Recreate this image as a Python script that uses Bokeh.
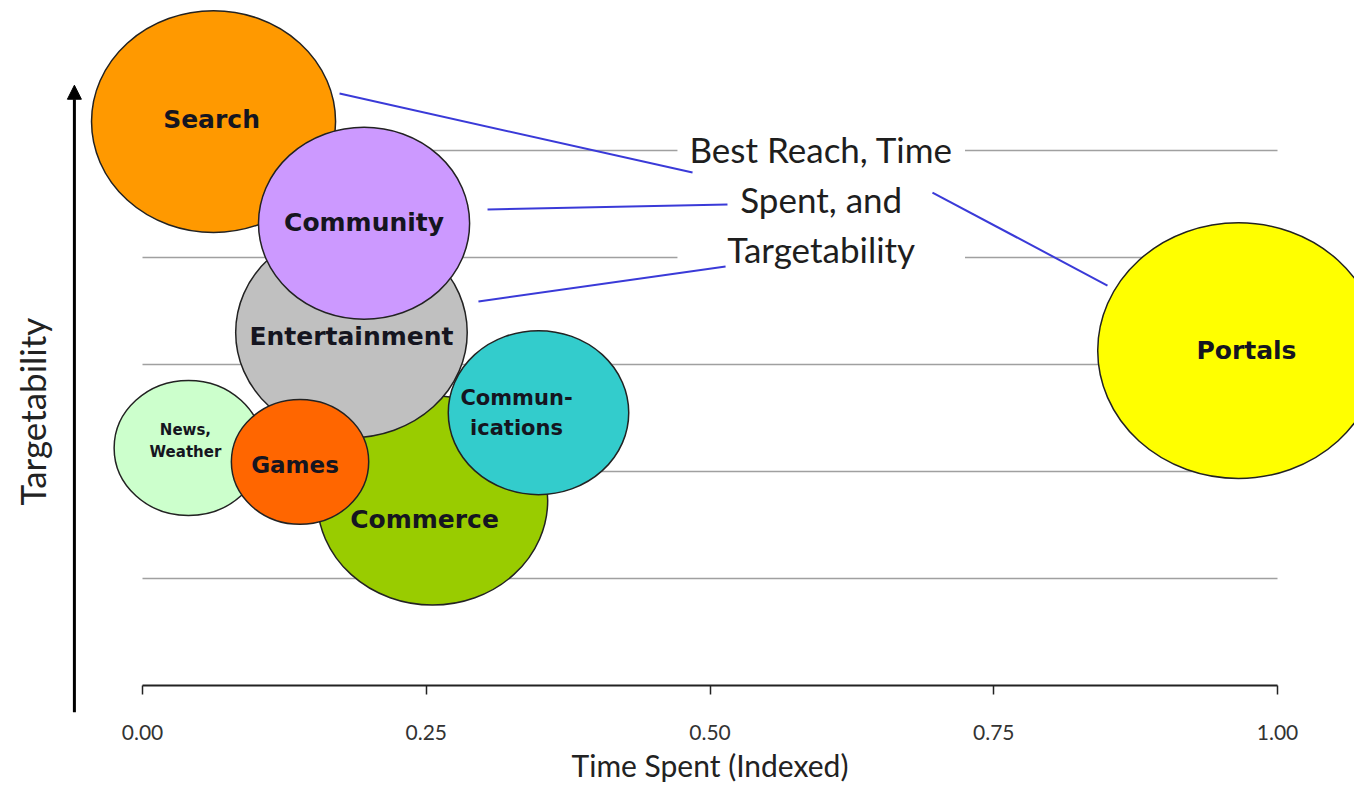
from math import pi
from bokeh.plotting import figure
from bokeh.models import (Range1d, LinearAxis, FixedTicker, Label, Arrow, NormalHead,
                          ColumnDataSource, NumeralTickFormatter)
from bokeh.embed import file_html
from bokeh.resources import INLINE
from bokeh.core.properties import value

# ---------------- data ----------------
categories = ["Commerce", "Entertainment", "Search", "Community", "Communications",
              "News, Weather", "Games", "Portals"]
bubble_labels = ["Commerce", "Entertainment", "Search", "Community", "Commun-\nications",
                 "News,\nWeather", "Games", "Portals"]
time_spent = [0.2555, 0.1841, 0.0626, 0.1952, 0.3489, 0.0405, 0.1388, 0.9656]
targetability = [1.73, 3.30, 5.27, 4.32, 2.55, 2.22, 2.09, 3.13]
reach = [0.203, 0.204, 0.215, 0.186, 0.159, 0.131, 0.121, 0.248]
colors = ["#99CC00", "#C0C0C0", "#FF9900", "#CC99FF", "#33CCCC", "#CCFFCC", "#FF6600", "#FFFF00"]

grid_levels = [1, 2, 3, 4, 5]
x_ticks = [0.0, 0.25, 0.5, 0.75, 1.0]

callout_text = "Best Reach, Time\nSpent, and\nTargetability"
callout_x = 0.598
callout_y = 4.55
# connector lines from bubbles to the callout
conn_x0 = [0.1736, 0.3040, 0.2960, 0.6960]
conn_y0 = [5.533, 4.449, 3.589, 4.607]
conn_x1 = [0.4846, 0.5154, 0.5137, 0.8502]
conn_y1 = [4.794, 4.495, 3.916, 3.738]

# ---------------- styles ----------------
ASPECT = 9.64  # height (y units) per width (x units) of each bubble
label_sizes = ["25px", "25px", "25px", "25px", "21px", "15px", "23px", "25px"]
label_dx = [-8, 0, -2, 0, -22, -3, -5, 8]
label_dy = [19, 4, -2, -1, 0, -7, 3, 0]

W, H = 1354, 791
X0_PX, X1_PX = 142, 1277        # canvas px for x=0 and x=1
Y0_PX, YPU = 685, 107           # canvas px for y=0, px per y unit
x_start = (0 - X0_PX) / (X1_PX - X0_PX)
x_end = (W - X0_PX) / (X1_PX - X0_PX)
y_end = Y0_PX / YPU
y_start = (Y0_PX - H) / YPU

p = figure(width=W, height=H, x_range=Range1d(x_start, x_end), y_range=Range1d(y_start, y_end),
           output_backend="svg", toolbar_location=None, x_axis_location=None,
           y_axis_location=None, min_border=0)
p.xgrid.visible = False
p.ygrid.visible = False
p.outline_line_color = None
p.background_fill_color = "white"

# gridlines
p.segment(x0=[0] * len(grid_levels), y0=grid_levels, x1=[1] * len(grid_levels), y1=grid_levels,
          line_color="#a0a0a0", line_width=1.3)

# bubbles
src = ColumnDataSource(dict(
    x=time_spent, y=targetability, w=reach, h=[r * ASPECT for r in reach],
    color=colors, label=bubble_labels, size=label_sizes, dx=label_dx, dy=label_dy))
p.ellipse(x="x", y="y", width="w", height="h", source=src, fill_color="color",
          line_color="#222222", line_width=1.5)
p.text(x="x", y="y", text="label", source=src, text_font=value("DejaVu Sans"),
       text_font_style="bold", text_font_size="size", text_align="center",
       text_baseline="middle", text_color="#151520", x_offset="dx", y_offset="dy",
       text_line_height=1.25)

# callout
p.add_layout(Label(x=callout_x, y=callout_y, text=callout_text, text_align="center",
                   text_baseline="middle", text_font="Lato", text_font_size="35px",
                   text_color="#1e1e1e", text_line_height=1.19,
                   background_fill_color="white", padding=12))
conn = p.segment(x0=conn_x0, y0=conn_y0, x1=conn_x1, y1=conn_y1,
                 line_color="#3a3ad8", line_width=2)
conn.level = "overlay"

# y axis arrow and label
p.add_layout(Arrow(end=NormalHead(size=14, fill_color="black", line_color="black"),
                   x_start=-0.06, y_start=-0.25, x_end=-0.06, y_end=5.61,
                   line_color="black", line_width=3))
p.add_layout(Label(x=-0.097, y=2.56, text="Targetability", angle=pi / 2,
                   text_align="center", text_baseline="middle", text_font="Lato",
                   text_font_size="35px", text_color="#222222"))

# x axis
xaxis = LinearAxis(fixed_location=0, ticker=FixedTicker(ticks=x_ticks), bounds=(0, 1),
                   formatter=NumeralTickFormatter(format="0.00"))
xaxis.axis_line_color = "#222222"
xaxis.axis_line_width = 2
xaxis.major_tick_line_color = "#222222"
xaxis.major_tick_line_width = 1.5
xaxis.major_tick_out = 9
xaxis.major_tick_in = 0
xaxis.minor_tick_out = 0
xaxis.minor_tick_in = 0
xaxis.major_label_standoff = 30
xaxis.major_label_text_font = "Lato"
xaxis.major_label_text_font_size = "21px"
xaxis.major_label_text_color = "#333333"
xaxis.axis_label = "Time Spent (Indexed)"
xaxis.axis_label_text_font = "Lato"
xaxis.axis_label_text_font_size = "30px"
xaxis.axis_label_text_font_style = "normal"
xaxis.axis_label_text_color = "#222222"
xaxis.axis_label_standoff = 4
p.add_layout(xaxis, "below")

open("out.html", "w").write(file_html(p, INLINE))
